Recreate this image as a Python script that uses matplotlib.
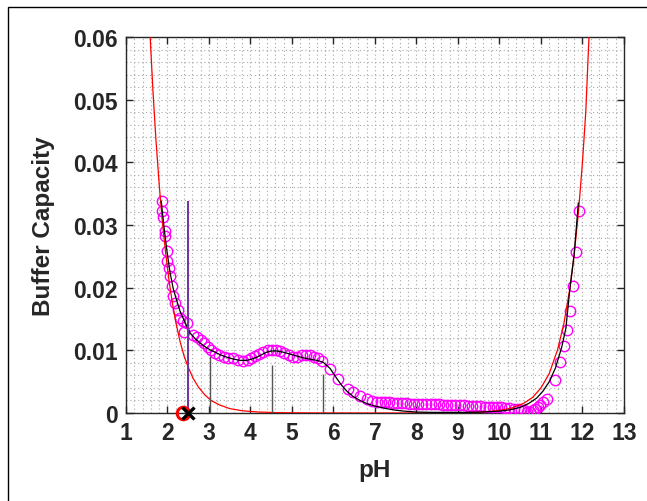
import matplotlib
matplotlib.use("Agg")
import matplotlib.pyplot as plt
from matplotlib.patches import Rectangle
from matplotlib.ticker import MultipleLocator

plt.rcParams['font.family'] = ['Liberation Sans', 'DejaVu Sans']
plt.rcParams['font.weight'] = 'bold'

# measured buffer capacity (circles)
meas_ph = [1.86, 1.87, 1.90, 1.93, 1.95, 1.98, 2.00, 2.04, 2.06, 2.11, 2.14, 2.19, 2.25, 2.31,
           2.37, 2.41, 2.47, 2.62, 2.72, 2.80, 2.88, 2.97, 3.06, 3.15, 3.25, 3.36, 3.47, 3.59,
           3.71, 3.83, 3.93, 4.02, 4.11, 4.20, 4.31, 4.42, 4.52, 4.62, 4.72, 4.82, 4.92, 5.02,
           5.13, 5.23, 5.33, 5.43, 5.53, 5.63, 5.73, 5.92, 6.12, 6.36, 6.48, 6.64, 6.80, 6.93,
           7.04, 7.14, 7.24, 7.34, 7.44, 7.54, 7.64, 7.74, 7.84, 7.94, 8.04, 8.14, 8.24, 8.34,
           8.44, 8.54, 8.64, 8.74, 8.84, 8.94, 9.04, 9.14, 9.24, 9.34, 9.44, 9.54, 9.64, 9.74,
           9.84, 9.94, 10.04, 10.14, 10.24, 10.34, 10.44, 10.52, 10.60, 10.67, 10.73, 10.80,
           10.86, 10.92, 10.98, 11.06, 11.14, 11.34, 11.46, 11.56, 11.63, 11.70, 11.78, 11.84,
           11.92]
meas_beta = [0.0338, 0.0323, 0.0313, 0.0291, 0.0283, 0.0258, 0.0243, 0.0231, 0.0218, 0.0202,
             0.0186, 0.0176, 0.0165, 0.0152, 0.0147, 0.0130, 0.0143, 0.0125, 0.0121, 0.0117,
             0.0112, 0.0106, 0.0100, 0.0096, 0.0093, 0.0090, 0.0088, 0.0087, 0.0085, 0.0083,
             0.0084, 0.0087, 0.0091, 0.0094, 0.0097, 0.0100, 0.0101, 0.0100, 0.0099, 0.0096,
             0.0093, 0.0090, 0.0090, 0.0092, 0.0093, 0.0092, 0.0090, 0.0087, 0.0083, 0.0071,
             0.0055, 0.0038, 0.0033, 0.0027, 0.0022, 0.0019, 0.0018, 0.0017, 0.0017, 0.0017,
             0.0016, 0.0016, 0.0016, 0.0016, 0.0015, 0.0015, 0.0015, 0.0015, 0.0014, 0.0014,
             0.0014, 0.0014, 0.0013, 0.0013, 0.0013, 0.0012, 0.0012, 0.0012, 0.0011, 0.0011,
             0.0011, 0.0011, 0.0010, 0.0010, 0.0010, 0.0009, 0.0009, 0.0008, 0.0008, 0.0007,
             0.0006, 0.0005, 0.0004, 0.0002, 0.0002, 0.0005, 0.0007, 0.0010, 0.0013, 0.0017,
             0.0023, 0.0053, 0.0081, 0.0107, 0.0133, 0.0163, 0.0203, 0.0257, 0.0323]

# fitted curve (black)
fit_ph = [1.85, 1.92, 1.98, 2.06, 2.14, 2.22, 2.30, 2.42, 2.54, 2.66, 2.78, 2.90, 3.02, 3.15,
          3.27, 3.43, 3.59, 3.75, 3.91, 4.03, 4.15, 4.27, 4.39, 4.51, 4.63, 4.79, 4.95, 5.11,
          5.27, 5.43, 5.60, 5.75, 5.92, 6.08, 6.20, 6.32, 6.48, 6.64, 6.80, 7.0, 7.2, 7.44,
          7.7, 8.0, 8.4, 8.8, 9.2, 9.6, 10.0, 10.25, 10.5, 10.7, 10.9, 11.05, 11.2, 11.35,
          11.5, 11.6, 11.7, 11.8, 11.9]
fit_beta = [0.0338, 0.0295, 0.0262, 0.0225, 0.0198, 0.0180, 0.0163, 0.0145, 0.0128, 0.0119,
            0.0112, 0.0106, 0.0101, 0.0097, 0.0093, 0.0089, 0.0086, 0.0084, 0.0084, 0.0086,
            0.0089, 0.0093, 0.0097, 0.0099, 0.0099, 0.0097, 0.0094, 0.0091, 0.0088, 0.0086,
            0.0084, 0.0081, 0.0071, 0.0055, 0.0044, 0.0035, 0.0026, 0.0020, 0.0015, 0.0011,
            0.0008, 0.0005, 0.0003, 0.00015, 0.0001, 0.0001, 0.0001, 0.00015, 0.0003, 0.0005,
            0.0009, 0.0015, 0.0024, 0.0035, 0.0050, 0.0072, 0.0105, 0.0135, 0.0200, 0.0253,
            0.0335]

# water contribution (red)
water_ph = [1.58, 1.65, 1.72, 1.80, 1.88, 1.96, 2.04, 2.12, 2.20, 2.30, 2.40, 2.50, 2.62,
            2.75, 2.90, 3.05, 3.25, 3.50, 3.80, 4.20, 4.70, 5.50, 6.50, 7.5, 8.5, 9.0, 9.5,
            10.0, 10.3, 10.6, 10.8, 11.0, 11.2, 11.4, 11.55, 11.7, 11.8, 11.9, 12.0, 12.08,
            12.16]
water_beta = [0.0604, 0.0514, 0.0438, 0.0365, 0.0303, 0.0253, 0.0210, 0.0175, 0.0145, 0.0115,
              0.0091, 0.0073, 0.0055, 0.0041, 0.0029, 0.0020, 0.0013, 0.0007, 0.00036,
              0.00015, 0.00005, 0.00001, 0.0, 0.0, 0.00001, 0.00004, 0.00013, 0.0004, 0.0008,
              0.0016, 0.0025, 0.0040, 0.0063, 0.0101, 0.0142, 0.0200, 0.0253, 0.0318, 0.0400,
              0.0481, 0.0605]

# pKa stems
pka_ph = [3.02, 4.52, 5.75]
pka_beta = [0.0091, 0.0077, 0.0062]

# start point / equivalence markers
start_ph = 2.50
start_beta = 0.0338
circle_ph = 2.38

fig = plt.figure(figsize=(6.47, 5.02), dpi=100)
ax = fig.add_axes([0.1947, 0.1753, 0.7697, 0.749])

ax.plot(meas_ph, meas_beta, 'o', mfc='none', mec='#FF00FF', ms=7.5, mew=1.0, zorder=3)
ax.plot(water_ph, water_beta, color='red', lw=0.9, zorder=4)
ax.plot(fit_ph, fit_beta, color='black', lw=0.9, zorder=5)
ax.vlines(pka_ph, 0, pka_beta, color='#555555', lw=1.0, zorder=4)
ax.vlines(start_ph, 0, start_beta, color='#7030A0', lw=1.4, zorder=6)
ax.plot(circle_ph, 0, 'o', mfc='none', mec='red', ms=9, mew=2.2, zorder=7, clip_on=False)
ax.plot(start_ph, 0, 'x', color='black', ms=8, mew=2.4, zorder=8, clip_on=False)

ax.set_xlim(1, 13)
ax.set_ylim(0, 0.06)
ax.xaxis.set_major_locator(MultipleLocator(1))
ax.xaxis.set_minor_locator(MultipleLocator(0.2))
ax.yaxis.set_minor_locator(MultipleLocator(0.002))
ax.set_yticks([0, 0.01, 0.02, 0.03, 0.04, 0.05, 0.06])
ax.set_yticklabels(['0', '0.01', '0.02', '0.03', '0.04', '0.05', '0.06'])

ax.grid(True, which='both', linestyle=(0, (1, 2.5)), color='#a8a8a8', lw=0.8)
ax.tick_params(which='major', direction='in', length=5, width=1, top=True, right=True,
               labelsize=16.5, colors='#262626', pad=6)
ax.tick_params(which='minor', length=0)
for lab in ax.get_xticklabels() + ax.get_yticklabels():
    lab.set_fontweight('bold')
for s in ax.spines.values():
    s.set_color('#262626')
    s.set_linewidth(1.0)

ax.set_xlabel('pH', fontsize=17.5, fontweight='bold', color='#262626', labelpad=10)
ax.set_ylabel('Buffer Capacity', fontsize=17.5, fontweight='bold', color='#262626', labelpad=13)

# frame around the figure
fig.patches.append(Rectangle((8 / 647, -0.2), 1.5, 1.2 - 8 / 502, transform=fig.transFigure,
                             fill=False, edgecolor='black', lw=1.0))

fig.savefig('out.png', dpi=100, facecolor='white')
